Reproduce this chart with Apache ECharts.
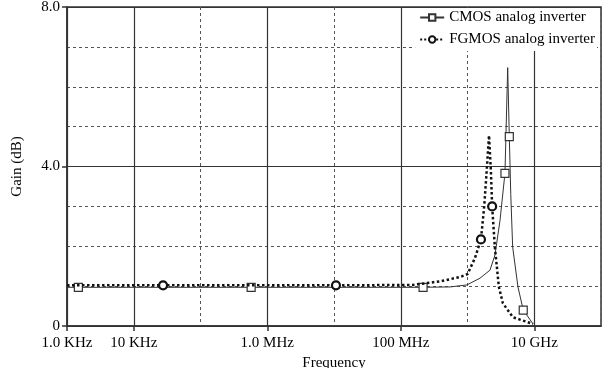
<!DOCTYPE html>
<html>
<head>
<meta charset="utf-8">
<script src="https://cdn.jsdelivr.net/npm/echarts@6/dist/echarts.min.js"></script>
<style>
  html, body { margin: 0; padding: 0; background: #fff; }
  #myChart { width: 613px; height: 368px; }
</style>
</head>
<body>
<div id="myChart"></div>
<script>
// x tick labels (decade exponent -> text)
var tickExp = [3, 4, 6, 8, 10];
var tickHz = [1e3, 1e4, 1e6, 1e8, 1e10];
var tickText = ['1.0 KHz', '10 KHz', '1.0 MHz', '100 MHz', '10 GHz'];
var yTickVal = [0, 4, 8];
var yTickText = ['0', '4.0', '8.0'];

// CMOS analog inverter (Hz, dB)
var cmosFreq = [1e3, 1.48e3, 5.74e5, 2.16e8, 5.5e8, 9.8e8, 1.54e9, 2.17e9, 2.58e9, 3.07e9, 3.64e9, 4.0e9, 4.23e9, 4.45e9, 4.75e9, 5.7e9, 6.84e9, 9.6e9];
var cmosGain = [0.97, 0.97, 0.97, 0.97, 0.98, 1.03, 1.2, 1.4, 1.78, 2.65, 3.83, 6.48, 4.75, 3.3, 1.98, 0.98, 0.4, 0.05];
var cmosMarks = [1, 2, 3, 10, 12, 16];

// FGMOS analog inverter (Hz, dB)
var fgmosFreq = [1e3, 2.75e4, 1.07e7, 1.5e8, 3.9e8, 7.8e8, 1.0e9, 1.29e9, 1.59e9, 1.78e9, 1.91e9, 2.1e9, 2.24e9, 2.34e9, 2.57e9, 2.95e9, 3.39e9, 4.79e9, 9.6e9];
var fgmosGain = [1.02, 1.02, 1.02, 1.03, 1.12, 1.23, 1.3, 1.7, 2.17, 3.0, 3.73, 4.78, 3.9, 3.0, 1.98, 0.98, 0.57, 0.22, 0.05];
var fgmosMarks = [1, 2, 8, 13];

function buildData(freq, gain, marks) {
  var out = [];
  for (var i = 0; i < freq.length; i++) {
    var item = { value: [freq[i], gain[i]] };
    if (marks.indexOf(i) < 0) item.symbol = 'none';
    out.push(item);
  }
  return out;
}

var font = 'Liberation Serif';
var myChart = echarts.init(document.getElementById('myChart'), null, { renderer: 'canvas' });
var option = {
  animation: false,
  textStyle: { fontFamily: font, color: '#000' },
  grid: {
    left: 67, right: 12, top: 7, bottom: 42,
    outerBoundsMode: 'none', containLabel: false,
    show: true, borderColor: '#333', borderWidth: 1.5
  },
  legend: {
    orient: 'vertical',
    right: 16,
    top: 8,
    itemGap: 7,
    itemWidth: 24,
    itemHeight: 8,
    padding: [2, 2, 4, 4],
    backgroundColor: '#fff',
    textStyle: { fontFamily: font, fontSize: 15, color: '#000' },
    data: ['CMOS analog inverter', 'FGMOS analog inverter']
  },
  xAxis: [
    {
      type: 'log', logBase: 10, min: 1e3, max: 1e11,
      name: 'Frequency', nameLocation: 'middle', nameGap: 28,
      nameTextStyle: { fontFamily: font, fontSize: 15, color: '#000' },
      axisLine: { show: true, lineStyle: { color: '#333', width: 1.5 } },
      axisTick: { show: false },
      axisLabel: {
        fontFamily: font, fontSize: 15, color: '#000', margin: 10,
        showMaxLabel: false,
        formatter: function (v) {
          var k = tickExp.indexOf(Math.round(Math.log10(v)));
          return k < 0 ? '' : tickText[k];
        }
      },
      splitLine: { show: true, lineStyle: { color: '#555', width: 1, type: [3, 3] } }
    },
    {
      type: 'log', logBase: 100, min: 1e3, max: 1e11, position: 'bottom',
      axisLine: { show: false },
      axisTick: { show: true, length: 5, customValues: tickHz, lineStyle: { color: '#333', width: 1.5 } },
      axisLabel: { show: false },
      splitLine: { show: true, lineStyle: { color: '#333', width: 1.2, type: 'solid' } }
    }
  ],
  yAxis: [
    {
      type: 'value', min: 0, max: 8, interval: 1,
      name: 'Gain (dB)', nameLocation: 'middle', nameGap: 42,
      nameTextStyle: { fontFamily: font, fontSize: 15, color: '#000' },
      axisLine: { show: true, lineStyle: { color: '#333', width: 1.5 } },
      axisTick: { show: false },
      axisLabel: { show: false },
      splitLine: { show: true, lineStyle: { color: '#555', width: 1, type: [3, 3] } }
    },
    {
      type: 'value', min: 0, max: 8, interval: 4, position: 'left',
      axisLine: { show: false },
      axisTick: { show: true, length: 5, lineStyle: { color: '#333', width: 1.5 } },
      axisLabel: {
        fontFamily: font, fontSize: 15, color: '#000', margin: 7,
        formatter: function (v) {
          var k = yTickVal.indexOf(v);
          return k < 0 ? '' : yTickText[k];
        }
      },
      splitLine: { show: true, lineStyle: { color: '#333', width: 1.2, type: 'solid' } }
    }
  ],
  series: [
    {
      name: 'CMOS analog inverter',
      type: 'line',
      xAxisIndex: 0, yAxisIndex: 0,
      symbol: 'rect', symbolSize: 8, showSymbol: true,
      lineStyle: { color: '#333', width: 1 },
      itemStyle: { color: '#fff', borderColor: '#333', borderWidth: 1.2 },
      data: buildData(cmosFreq, cmosGain, cmosMarks),
      z: 3
    },
    {
      name: 'FGMOS analog inverter',
      type: 'line',
      xAxisIndex: 0, yAxisIndex: 0,
      symbol: 'circle', symbolSize: 8, showSymbol: true,
      lineStyle: { color: '#111', width: 2.5, type: 'dotted' },
      itemStyle: { color: '#fff', borderColor: '#111', borderWidth: 2.2 },
      data: buildData(fgmosFreq, fgmosGain, fgmosMarks),
      z: 4
    }
  ]
};
myChart.setOption(option);
</script>
</body>
</html>
